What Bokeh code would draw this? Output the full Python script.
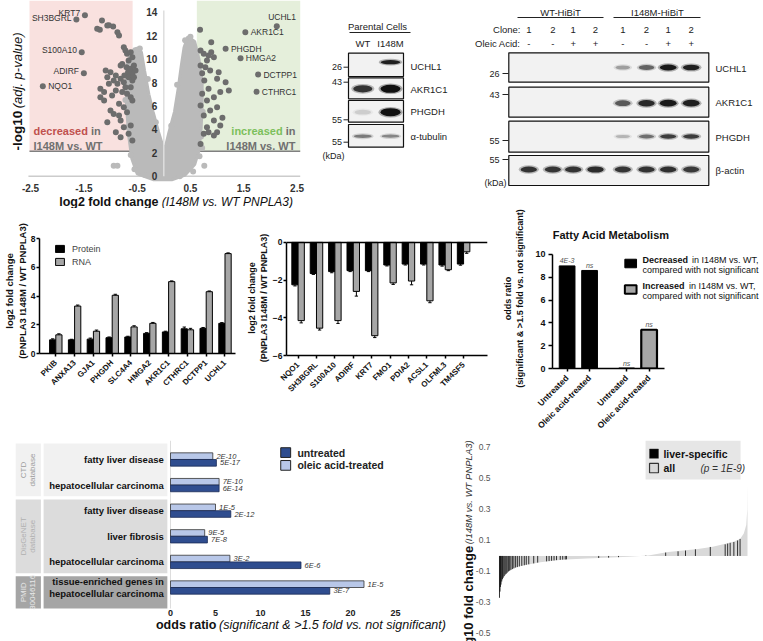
import math
import numpy as np
from bokeh.plotting import figure
from bokeh.models import Range1d, FixedTicker, Span, Legend, LegendItem
from bokeh.layouts import row, column
from bokeh.core.properties import value
from bokeh.embed import file_html
from bokeh.resources import INLINE

FONT = "Liberation Sans"

# ======================= DATA =======================
# --- volcano plot ---
vol_xticks = [-2.5, -1.5, -0.5, 0.5, 1.5, 2.5]
vol_yticks = [0, 2, 4, 6, 8, 10, 12, 14]
fc_threshold_down = -0.585
fc_threshold_up = 0.62
p_threshold = 2.13
genes_lab = ["KRT7", "SH3BGRL", "S100A10", "ADIRF", "NQO1",
             "UCHL1", "AKR1C1", "PHGDH", "HMGA2", "DCTPP1", "CTHRC1"]
genes_lab_x = [-1.48, -1.64, -1.54, -1.50, -2.27, 2.12, 1.53, 1.16, 1.44, 1.77, 1.74]
genes_lab_y = [13.75, 13.38, 10.59, 8.80, 7.69, 12.81, 12.30, 10.88, 10.08, 8.68, 7.21]
genes_lab_side = ["left", "left", "left", "left", "right",
                  "above", "right", "right", "right", "right", "right"]
down_pts = [(-1.16, 13.29), (-1.06, 12.87), (-1.20, 12.50), (-0.95, 12.78), (-0.87, 12.30),
            (-0.84, 12.01), (-0.75, 11.02), (-0.72, 10.73), (-0.69, 10.45), (-0.62, 10.59),
            (-0.59, 10.16), (-0.66, 9.88), (-0.78, 9.59), (-0.70, 9.31), (-0.62, 9.17),
            (-0.56, 9.45), (-0.53, 9.02), (-0.59, 8.74), (-0.67, 8.88), (-0.74, 8.60),
            (-0.66, 8.46), (-0.81, 8.32), (-0.59, 8.17), (-0.56, 8.46), (-0.75, 8.03),
            (-0.87, 7.89), (-1.00, 8.88), (-1.09, 9.02), (-1.06, 8.46), (-0.94, 8.17),
            (-1.19, 7.46), (-0.90, 7.32), (-0.78, 7.18), (-0.69, 7.04), (-0.62, 6.75),
            (-0.59, 6.46), (-1.12, 6.46), (-0.84, 6.18), (-0.75, 5.89), (-0.69, 5.46),
            (-0.94, 5.32), (-1.06, 4.61), (-0.81, 4.75), (-0.75, 4.18), (-0.62, 4.33),
            (-0.90, 3.76), (-0.66, 3.62), (-0.81, 3.33), (-0.59, 3.04), (-1.00, 5.61),
            (-1.19, 6.75), (-1.12, 7.18), (-0.72, 7.60), (-0.62, 7.60), (-1.03, 7.89),
            (-0.90, 8.60), (-0.97, 6.89), (-0.84, 5.18), (-0.81, 9.45), (-1.25, 12.60),
            (-1.03, 12.90)]
up_pts = [(0.68, 12.50), (0.89, 11.43), (0.69, 10.73), (0.75, 10.45), (0.84, 10.30),
          (0.94, 10.16), (0.81, 9.88), (0.69, 9.45), (0.78, 9.31), (0.87, 9.02),
          (1.03, 8.88), (1.16, 8.03), (1.00, 8.32), (0.76, 8.17), (0.84, 7.46),
          (0.72, 7.04), (0.94, 6.75), (1.06, 7.18), (1.22, 7.32), (0.81, 6.46),
          (0.69, 6.03), (0.87, 5.61), (1.00, 5.89), (0.75, 5.18), (0.94, 4.75),
          (0.81, 4.18), (1.06, 4.33), (0.75, 3.62), (0.84, 3.76), (0.94, 3.47),
          (0.69, 2.76), (1.00, 3.76), (0.89, 10.59), (1.10, 5.00), (0.72, 8.80)]
# outline of the dense cloud of non-significant proteins
cloud_x = [-0.50, -0.60, -0.66, -0.70, -0.70, -0.64, -0.55, -0.42, -0.36, -0.28, -0.20, -0.10,
           -0.02, 0.03, 0.10, 0.20, 0.27, 0.33, 0.38, 0.45, 0.58, 0.66, 0.72, 0.72, 0.70, 0.66,
           0.58, 0.40, 0.15, -0.20]
cloud_y = [0.2, 1.5, 3.5, 6.0, 8.5, 10.3, 10.9, 10.6, 9.0, 7.0, 5.5, 3.8,
           2.6, 2.5, 3.8, 5.5, 7.5, 9.5, 11.0, 11.9, 11.5, 10.0, 8.0, 6.0, 4.0, 2.2,
           1.0, 0.1, -0.3, -0.3]
cloud_pts = [(-0.94, 0.9), (-0.87, 0.9), (0.76, 0.9), (0.67, 1.7), (0.72, 2.4), (-0.62, 1.8),
             (-0.55, 0.6), (0.55, 0.4), (-0.68, 4.2), (0.70, 3.4), (-0.72, 6.5), (0.73, 5.5),
             (-0.66, 9.6), (0.71, 7.2), (-0.50, 10.8), (0.62, 10.6), (0.50, 11.9), (0.40, 11.6),
             (-0.45, 10.9), (-0.30, 8.3), (0.25, 7.8), (-0.15, 4.6), (0.14, 4.3), (-0.35, 0.1),
             (0.30, 0.0)]

# --- western blots (band intensity 0..1) ---
par_lanes = ["WT", "I148M"]
par_rows = ["UCHL1", "AKR1C1", "PHGDH", "\u03b1-tubulin"]
par_int = [[0.0, 0.9], [0.8, 1.0], [0.12, 1.0], [0.45, 0.4]]
par_mw = ["26", "43", "55", "55"]
hib_groups = ["WT-HiBiT", "I148M-HiBiT"]
hib_clone = ["1", "2", "1", "2", "1", "2", "1", "2"]
hib_oleic = ["-", "-", "+", "+", "-", "-", "+", "+"]
hib_rows = ["UCHL1", "AKR1C1", "PHGDH", "\u03b2-actin"]
hib_int = [[0, 0, 0, 0, 0.30, 0.55, 0.95, 0.90],
           [0, 0, 0, 0, 0.60, 0.85, 0.95, 0.90],
           [0, 0, 0, 0, 0.22, 0.50, 0.75, 0.75],
           [0.80, 0.78, 0.80, 0.84, 0.78, 0.80, 0.82, 0.76]]
hib_mw = ["26", "43", "55", "55"]

# --- increased proteins: protein vs RNA ---
up_genes = ["PKIB", "ANXA13", "GJA1", "PHGDH", "SLC4A4", "HMGA2", "AKR1C1", "CTHRC1", "DCTPP1", "UCHL1"]
up_protein = [0.95, 0.95, 1.00, 1.10, 1.15, 1.40, 1.50, 1.72, 1.75, 2.10]
up_protein_err = [0.07, 0.04, 0.07, 0.05, 0.05, 0.05, 0.05, 0.12, 0.06, 0.05]
up_rna = [1.30, 3.30, 1.55, 4.05, 1.85, 2.10, 5.00, 1.65, 4.30, 6.95]
up_rna_err = [0.07, 0.07, 0.08, 0.07, 0.08, 0.06, 0.05, 0.10, 0.05, 0.05]
up_yticks = [0, 2, 4, 6, 8]

# --- decreased proteins: protein vs RNA ---
down_genes = ["NQO1", "SH3BGRL", "S100A10", "ADIRF", "KRT7", "FMO1", "PDIA2", "ACSL1", "OLFML3", "TM4SF5"]
down_protein = [-2.25, -1.65, -1.55, -1.50, -1.50, -1.20, -1.15, -1.15, -1.20, -1.15]
down_protein_err = [0.06, 0.05, 0.06, 0.05, 0.05, 0.05, 0.05, 0.05, 0.06, 0.06]
down_rna = [-4.15, -4.55, -4.15, -2.60, -4.95, -2.15, -2.05, -3.10, -1.45, -0.50]
down_rna_err = [0.12, 0.10, 0.15, 0.25, 0.10, 0.08, 0.20, 0.10, 0.05, 0.08]
down_yticks = [0, -2, -4, -6]

# --- fatty acid metabolism ---
fa_title = "Fatty Acid Metabolism"
fa_groups = ["Decreased", "Decreased", "Increased", "Increased"]
fa_cond = ["Untreated", "Oleic acid-treated", "Untreated", "Oleic acid-treated"]
fa_odds = [9.0, 8.6, 0.0, 3.4]
fa_p = ["4E-3", "ns", "ns", "ns"]
fa_yticks = [0, 2, 4, 6, 8, 10]
fa_legend_rest = "in I148M vs. WT,"
fa_legend_2 = "compared with not significant"

# --- disease enrichment ---
dis_labels = ["fatty liver disease", "hepatocellular carcinoma", "fatty liver disease",
              "liver fibrosis", "hepatocellular carcinoma",
              "tissue-enriched genes in\nhepatocellular carcinoma"]
dis_db = ["CTD\ndatabase", "DisGeNET\ndatabase", "PMID\n30046116"]
dis_db_n = [2, 3, 1]
or_untreated = [5.1, 5.4, 6.7, 4.1, 14.5, 17.7]
or_oleic = [4.7, 5.4, 5.0, 3.8, 6.6, 21.5]
p_untreated = ["5E-17", "6E-14", "2E-12", "7E-8", "6E-6", "3E-7"]
p_oleic = ["2E-10", "7E-10", "1E-5", "9E-5", "3E-2", "1E-5"]
or_series = ["untreated", "oleic acid-treated"]
or_xticks = [0, 5, 10, 15, 20, 25]

# --- waterfall of liver-specific genes (rank fraction, log10 FC) ---
wf_frac = [0.0, 0.004, 0.01, 0.017, 0.03, 0.05, 0.07, 0.10, 0.165, 0.25, 0.35, 0.45, 0.52,
           0.60, 0.68, 0.80, 0.86, 0.94, 0.97, 0.985, 0.995, 0.999, 1.0]
wf_val = [-0.27, -0.20, -0.16, -0.137, -0.11, -0.085, -0.072, -0.06, -0.04, -0.025, -0.017,
          -0.01, -0.005, 0.003, 0.025, 0.045, 0.06, 0.09, 0.11, 0.145, 0.20, 0.30, 0.47]
liver_frac = [0.000, 0.002, 0.004, 0.006, 0.009, 0.012, 0.015, 0.019, 0.023, 0.027, 0.031,
              0.036, 0.041, 0.046, 0.052, 0.058, 0.065, 0.072, 0.080, 0.090, 0.100, 0.108,
              0.118, 0.138, 0.154, 0.190, 0.200, 0.210, 0.220, 0.230, 0.245, 0.255, 0.265,
              0.270, 0.400, 0.440, 0.480, 0.590, 0.670, 0.720, 0.750, 0.790, 0.850, 0.910,
              0.920, 0.930, 0.945, 0.960, 0.970]
liver_val = [-0.27, -0.23, -0.20, -0.185, -0.165, -0.15, -0.14, -0.13, -0.12, -0.115, -0.108,
             -0.10, -0.095, -0.09, -0.085, -0.08, -0.075, -0.072, -0.068, -0.064, -0.06, -0.057,
             -0.054, -0.048, -0.043, -0.035, -0.033, -0.031, -0.029, -0.027, -0.025, -0.024,
             -0.023, -0.022, -0.013, -0.011, -0.008, 0.002, 0.022, 0.03, 0.035, 0.043, 0.058,
             0.075, 0.08, 0.085, 0.09, 0.10, 0.11]
wf_yticks = [0.7, 0.5, 0.3, 0.1, -0.1, -0.3, -0.5]
wf_legend = ["liver-specific", "all"]
wf_p = "(p = 1E-9)"


# ======================= HELPERS =======================
def mkfig(w, h, xr, yr, left=0, right=0, top=0, bottom=0):
    p = figure(width=w, height=h, x_range=Range1d(*xr), y_range=Range1d(*yr),
               output_backend="svg", toolbar_location=None,
               min_border_left=left, min_border_right=right,
               min_border_top=top, min_border_bottom=bottom)
    try:
        p.frame_align = False
    except Exception:
        pass
    p.outline_line_color = None
    p.xgrid.visible = False
    p.ygrid.visible = False
    return p


def T(p, xs, ys, texts, size="9px", style="normal", color="#222222", align="left",
      baseline="middle", angle=0.0):
    p.text(x=list(xs), y=list(ys), text=list(texts), text_font=value(FONT),
           text_font_size=size, text_font_style=style, text_color=color,
           text_align=align, text_baseline=baseline, angle=angle)


def style_axis(ax, size, label_size=None, color="#111111"):
    ax.axis_line_color = "black"
    ax.axis_line_width = 1.5
    ax.major_tick_line_color = "black"
    ax.major_tick_line_width = 1.5
    ax.major_tick_in = 0
    ax.major_tick_out = 3
    ax.minor_tick_line_color = None
    ax.major_label_text_font = FONT
    ax.major_label_text_font_size = size
    ax.major_label_text_font_style = "bold"
    ax.major_label_text_color = color
    ax.axis_label_text_font = FONT
    ax.axis_label_text_font_style = "bold"
    ax.axis_label_text_font_size = label_size or size
    ax.axis_label_text_color = color


# ======================= VOLCANO (page 0-305 x 0-208) =======================
pv = mkfig(305, 208, (-3.064, 2.659), (-2.758, 15.004))
pv.xaxis.visible = False
pv.yaxis.visible = False
pv.quad(left=[-2.52, fc_threshold_up], right=[fc_threshold_down, 2.56],
        bottom=[p_threshold, p_threshold], top=[15.0, 15.0],
        fill_color=["#f9e1df", "#e5efdb"], line_color=None)
pv.segment(x0=[-2.52], x1=[2.56], y0=[p_threshold], y1=[p_threshold],
           line_color="#808080", line_width=1.5)
pv.segment(x0=[-2.54], x1=[2.56], y0=[0], y1=[0], line_color="#cccccc", line_width=1.5)
pv.patch(cloud_x, cloud_y, fill_color="#bababa", line_color="#bababa", line_width=3)
pv.scatter([a for a, b in cloud_pts], [b for a, b in cloud_pts], size=6,
           fill_color="#bababa", line_color=None)
pv.segment(x0=[0], x1=[0], y0=[0], y1=[14.15], line_color="#dedede", line_width=1.5)
pv.scatter([a for a, b in down_pts], [b for a, b in down_pts], size=6,
           fill_color="#6d6d6d", line_color=None)
pv.scatter([a for a, b in up_pts], [b for a, b in up_pts], size=6,
           fill_color="#6d6d6d", line_color=None)
pv.scatter(genes_lab_x, genes_lab_y, size=6, fill_color="#6d6d6d", line_color=None)
T(pv, [-0.12] * len(vol_yticks), vol_yticks, [str(t) for t in vol_yticks],
  "10px", "bold", "#333333", "right")
T(pv, vol_xticks, [-1.025] * len(vol_xticks), [str(t) for t in vol_xticks],
  "10px", "bold", "#333333", "center")
for g, gx, gy, side in zip(genes_lab, genes_lab_x, genes_lab_y, genes_lab_side):
    if side == "left":
        T(pv, [gx - 0.09], [gy + 0.15], [g], "8.5px", "normal", "#333333", "right")
    elif side == "right":
        T(pv, [gx + 0.1], [gy], [g], "8.5px", "normal", "#333333", "left")
    else:
        T(pv, [gx + 0.1], [gy + 0.75], [g], "8.5px", "normal", "#333333", "center")
T(pv, [-2.445], [3.84], ["decreased"], "11px", "bold", "#c0504d", "left")
T(pv, [-1.368], [3.84], ["in"], "11px", "bold", "#707070", "left")
T(pv, [-2.445], [2.62], ["I148M vs. WT"], "11px", "bold", "#707070", "left")
T(pv, [2.47], [3.84], ["in"], "11px", "bold", "#707070", "right")
T(pv, [2.231], [3.84], ["increased"], "11px", "bold", "#7cbf5c", "right")
T(pv, [2.47], [2.62], ["I148M vs. WT"], "11px", "bold", "#707070", "right")
T(pv, [-0.10], [-2.2], ["log2 fold change"], "12.5px", "bold", "#111111", "right")
T(pv, [-0.04], [-2.2], ["(I148M vs. WT PNPLA3)"], "12px", "italic", "#111111", "left")
T(pv, [-2.745], [5.6], ["-log10"], "13.5px", "bold", "#111111", "right", angle=math.pi / 2)
T(pv, [-2.745], [5.8], ["(adj. p-value)"], "13px", "italic", "#111111", "left", angle=math.pi / 2)

# ======================= BLOTS (page 305-763 x 0-208) =======================
pb = mkfig(458, 208, (305, 763), (208, 0))
pb.xaxis.visible = False
pb.yaxis.visible = False


def draw_bands(p, lane_x, band_y, ints, base_w, base_h):
    for yy, h, row_i in zip(band_y, base_h, ints):
        for xx, a in zip(lane_x, row_i):
            if a <= 0:
                continue
            w = base_w * (0.8 + 0.2 * a)
            hh = h * (0.55 + 0.45 * a)
            p.ellipse(x=[xx], y=[yy], width=[w + 4], height=[hh + 2.5],
                      fill_color="#222222", fill_alpha=0.35 * a, line_color=None)
            p.ellipse(x=[xx], y=[yy], width=[w], height=[hh],
                      fill_color="#111111", fill_alpha=min(1.0, a), line_color=None)


par_lane_x = [362.3, 390.0]
par_box = [(52.7, 76.0), (77.3, 98.3), (100.0, 121.7), (124.0, 146.7)]
par_band_y = [61.7, 88.3, 111.7, 135.7]
par_label_y = [66.0, 89.3, 110.7, 136.0]
par_mw_y = [66.7, 81.7, 119.3, 141.7]
T(pb, [377], [26], ["Parental Cells"], "9.5px", "normal", "#222222", "center")
pb.segment(x0=[349], x1=[410], y0=[32], y1=[32], line_color="#222222", line_width=1)
T(pb, par_lane_x, [43, 43], par_lanes, "9.5px", "normal", "#222222", "center")
pb.quad(left=[348] * 4, right=[403] * 4, top=[b[0] for b in par_box],
        bottom=[b[1] for b in par_box], fill_color="#f2f2f2", line_color="#111111",
        line_width=1.2)
draw_bands(pb, par_lane_x, par_band_y, par_int, 20, [4.5, 8.0, 8.0, 4.5])
T(pb, [410] * 4, par_label_y, par_rows, "9.5px", "normal", "#222222", "left")
T(pb, [341.5] * 4, par_mw_y, par_mw, "9px", "normal", "#222222", "right")
pb.segment(x0=[343] * 4, x1=[348] * 4, y0=par_mw_y, y1=par_mw_y, line_color="#222222")
T(pb, [333], [155], ["(kDa)"], "9px", "normal", "#222222", "center")

hib_lane_x = [528.3, 552.3, 572.7, 595.0, 622.3, 646.0, 667.7, 690.7]
hib_box = [(52.3, 81.7), (86.7, 116.7), (120.7, 151.7), (155.0, 185.0)]
hib_band_y = [67.0, 102.7, 136.0, 169.0]
hib_label_y = [68.0, 102.0, 137.0, 170.0]
hib_mw_y = [73.0, 94.0, 140.0, 159.0]
T(pb, [560, 657], [12, 12], hib_groups, "9.5px", "normal", "#222222", "center")
pb.segment(x0=[517, 613], x1=[603, 700], y0=[17, 17], y1=[17, 17], line_color="#222222")
T(pb, [520, 520], [29, 43], ["Clone:", "Oleic Acid:"], "9.5px", "normal", "#222222", "right")
T(pb, hib_lane_x, [29] * 8, hib_clone, "9.5px", "normal", "#222222", "center")
T(pb, hib_lane_x, [43] * 8, hib_oleic, "9.5px", "normal", "#222222", "center")
pb.quad(left=[508.3] * 4, right=[708.3] * 4, top=[b[0] for b in hib_box],
        bottom=[b[1] for b in hib_box], fill_color="#f2f2f2", line_color="#111111",
        line_width=1.2)
draw_bands(pb, hib_lane_x, hib_band_y, hib_int, 17, [6.0, 7.0, 5.0, 6.5])
T(pb, [715] * 4, hib_label_y, hib_rows, "9.5px", "normal", "#222222", "left")
T(pb, [499] * 4, hib_mw_y, hib_mw, "9px", "normal", "#222222", "right")
pb.segment(x0=[502] * 4, x1=[508] * 4, y0=hib_mw_y, y1=hib_mw_y, line_color="#222222")
T(pb, [495], [182], ["(kDa)"], "9px", "normal", "#222222", "center")

# ======================= UP BAR CHART (page 0-243 x 208-440) =======================
p1 = mkfig(243, 232, (-0.867, 9.559), (0, 8.696), left=39, right=8, top=20, bottom=87)
xi = np.arange(len(up_genes))
off = 0.165
rp = p1.vbar(x=xi - off, top=up_protein, bottom=0, width=0.33, fill_color="black", line_color="black")
rr = p1.vbar(x=xi + off, top=up_rna, bottom=0, width=0.33, fill_color="#a6a6a6", line_color="black")
for xs, vals, errs in ((xi - off, up_protein, up_protein_err), (xi + off, up_rna, up_rna_err)):
    hi = np.array(vals) + np.array(errs)
    p1.segment(x0=xs, x1=xs, y0=vals, y1=hi, line_color="black", line_width=1)
    p1.segment(x0=xs - 0.09, x1=xs + 0.09, y0=hi, y1=hi, line_color="black", line_width=1)
ax = p1.xaxis[0]
style_axis(ax, "8px")
ax.ticker = FixedTicker(ticks=list(xi))
ax.major_label_overrides = {int(i): g for i, g in zip(xi, up_genes)}
ax.major_label_orientation = math.pi / 4
ay = p1.yaxis[0]
style_axis(ay, "8.5px", "9.5px")
ay.ticker = FixedTicker(ticks=up_yticks)
ay.bounds = (0, 8)
ay.axis_label = "log2 fold change\n(PNPLA3 I148M / WT PNPLA3)"
ay.axis_label_standoff = 0
ay.major_label_standoff = 1
leg = Legend(items=[LegendItem(label="Protein", renderers=[rp]),
                    LegendItem(label="RNA", renderers=[rr])],
             location="top_left", margin=15, padding=0, spacing=2,
             glyph_width=11, glyph_height=9, label_height=11,
             label_text_font=FONT, label_text_font_size="9px", label_standoff=7,
             border_line_color=None, background_fill_alpha=0)
p1.add_layout(leg)

# ======================= DOWN BAR CHART (page 243-500 x 208-440) =======================
p2 = mkfig(257, 232, (-0.63, 10.3), (-6, 0.1), left=37, right=13, top=32, bottom=85)
xi2 = np.arange(len(down_genes))
off2 = 0.17
p2.vbar(x=xi2 - off2, top=down_protein, bottom=0, width=0.34, fill_color="black", line_color="black")
p2.vbar(x=xi2 + off2, top=down_rna, bottom=0, width=0.34, fill_color="#a6a6a6", line_color="black")
for xs, vals, errs in ((xi2 - off2, down_protein, down_protein_err), (xi2 + off2, down_rna, down_rna_err)):
    lo = np.array(vals) - np.array(errs)
    p2.segment(x0=xs, x1=xs, y0=vals, y1=lo, line_color="black", line_width=1)
    p2.segment(x0=xs - 0.09, x1=xs + 0.09, y0=lo, y1=lo, line_color="black", line_width=1)
p2.add_layout(Span(location=0, dimension="width", line_color="black", line_width=1.5))
ax = p2.xaxis[0]
style_axis(ax, "8px")
ax.ticker = FixedTicker(ticks=list(xi2))
ax.major_label_overrides = {int(i): g for i, g in zip(xi2, down_genes)}
ax.major_label_orientation = math.pi / 4
ay = p2.yaxis[0]
style_axis(ay, "8.5px", "9px")
ay.ticker = FixedTicker(ticks=down_yticks)
ay.bounds = (-6, 0)
ay.axis_label = "log2 fold change\n(PNPLA3 I148M / WT PNPLA3)"
ay.axis_label_standoff = 1
ay.major_label_standoff = 1

# ======================= FATTY ACID (page 500-763 x 208-440) =======================
pf = mkfig(263, 232, (0.35, 9.74), (0, 12.28), left=47, right=0, top=20, bottom=72)
fa_x = []
pos = 1.0
prev = None
for g in fa_groups:
    if prev is not None:
        pos += 1.0 if g == prev else 1.65
    fa_x.append(pos)
    prev = g
fa_fill = ["black" if g == "Decreased" else "#a6a6a6" for g in fa_groups]
fa_lw = [1.0 if g == "Decreased" else 2.2 for g in fa_groups]
pf.vbar(x=fa_x, top=fa_odds, bottom=0, width=0.7, fill_color=fa_fill,
        line_color="black", line_width=fa_lw)
T(pf, fa_x, [v + 0.45 for v in fa_odds], fa_p, "7px", "italic", "#555555", "center")
ax = pf.xaxis[0]
style_axis(ax, "8.5px")
ax.ticker = FixedTicker(ticks=fa_x)
ax.major_label_overrides = {float(x): c for x, c in zip(fa_x, fa_cond)}
ax.major_label_orientation = math.pi / 4
ax.bounds = (0.35, 5.35)
ay = pf.yaxis[0]
style_axis(ay, "9px")
ay.major_tick_out = 4
ay.ticker = FixedTicker(ticks=fa_yticks)
ay.bounds = (0, 10)
ay.axis_label = "odds ratio\n(significant & >1.5 fold vs. not significant)"
ay.axis_label_standoff = 7
ay.major_label_standoff = 3
T(pf, [0.36], [11.67], [fa_title], "11px", "bold", "#111111", "left")
leg_groups = ["Decreased", "Increased"]
leg_y = [9.21, 6.93]
pf.rect(x=[3.83, 3.83], y=leg_y, width=0.52, height=0.75,
        fill_color=["black", "#a6a6a6"], line_color="black", line_width=[1.0, 2.0])
T(pf, [4.35, 4.35], [9.56, 7.28], leg_groups, "9px", "bold", "#111111", "left")
T(pf, [6.56, 6.42], [9.56, 7.28], [fa_legend_rest] * 2, "9px", "normal", "#111111", "left")
T(pf, [4.35, 4.35], [8.60, 6.32], [fa_legend_2] * 2, "9px", "normal", "#111111", "left")

# ======================= DISEASE ENRICHMENT (page 0-448 x 440-641) =======================
ph = mkfig(448, 201, (-18.89, 30.89), (7.109, -0.742))
ph.xaxis.visible = False
ph.yaxis.visible = False
yi = np.arange(len(dis_labels))
db_fill = ["#f1f1f1", "#dcdcdc", "#a5a5a5"]
db_text = ["#9b9b9b", "#b0b0b0", "#e8e8e8"]
starts = np.cumsum([0] + dis_db_n[:-1])
ends = starts + np.array(dis_db_n) - 1
tops, bots = [], []
for k, (s, e) in enumerate(zip(starts, ends)):
    tops.append(-0.62 if k == 0 else (ends[k - 1] + s) / 2 + 0.06)
    bots.append(5.82 if k == len(starts) - 1 else (e + starts[k + 1]) / 2 - 0.06)
ph.quad(left=[-17.2] * 3, right=[-14.4] * 3, top=tops, bottom=bots,
        fill_color=db_fill, line_color=None)
ph.quad(left=[-14.1] * 3, right=[-0.35] * 3, top=tops, bottom=bots,
        fill_color=db_fill, line_color=None)
for k, name in enumerate(dis_db):
    l1, l2 = name.split("\n")
    yc = (tops[k] + bots[k]) / 2
    T(ph, [-16.35], [yc], [l1], "8px", "normal", db_text[k], "center", angle=math.pi / 2)
    T(ph, [-15.3], [yc], [l2], "8px", "normal", db_text[k], "center", angle=math.pi / 2)
for i, lab in enumerate(dis_labels):
    lines = lab.split("\n")
    n = len(lines)
    for j, ln in enumerate(lines):
        T(ph, [-0.75], [i + (j - (n - 1) / 2) * 0.44], [ln], "9.5px", "bold", "#111111", "right")
ph.segment(x0=[0], x1=[0], y0=[-0.74], y1=[5.82], line_color="#dddddd", line_width=1)
ph.hbar(y=yi - 0.13, left=0, right=or_oleic, height=0.26, fill_color="#b8c7e8",
        line_color="#333333", line_width=0.8)
ph.hbar(y=yi + 0.13, left=0, right=or_untreated, height=0.26, fill_color="#2f4d8f",
        line_color="#1b2b55", line_width=0.8)
T(ph, np.array(or_oleic) + 0.4, yi - 0.13, p_oleic, "7.5px", "italic", "#333333", "left")
T(ph, np.array(or_untreated) + 0.4, yi + 0.13, p_untreated, "7.5px", "italic", "#333333", "left")
ph.rect(x=[12.8, 12.8], y=[-0.27, 0.23], width=1.1, height=0.38,
        fill_color=["#2f4d8f", "#b8c7e8"], line_color="#222222", line_width=1)
T(ph, [14.1, 14.1], [-0.27, 0.23], or_series, "10.5px", "bold", "#222222", "left")
T(ph, or_xticks, [5.977] * len(or_xticks), [str(t) for t in or_xticks], "9px", "bold", "#222222", "center")
T(ph, [5.1], [6.484], ["odds ratio"], "12.5px", "bold", "#111111", "right")
T(ph, [5.4], [6.484], ["(significant & >1.5 fold vs. not significant)"], "12.5px", "italic", "#111111", "left")

# ======================= WATERFALL (page 448-763 x 440-641) =======================
pw = mkfig(315, 201, (-0.2056, 1.0645), (-0.552, 0.745))
pw.xaxis.visible = False
pw.yaxis.visible = False
pw.varea(x=wf_frac, y1=[0] * len(wf_frac), y2=wf_val, fill_color="#d9d9d9")
pw.segment(x0=liver_frac, x1=liver_frac, y0=[0] * len(liver_frac), y1=liver_val,
           line_color="#111111", line_width=1, line_alpha=0.85)
T(pw, [-0.0363] * len(wf_yticks), wf_yticks, [str(t) for t in wf_yticks],
  "8.5px", "normal", "#555555", "right")
pw.quad(left=[0.589], right=[0.972], top=[0.745], bottom=[0.493],
        fill_color="#e6e6e6", line_color=None)
pw.rect(x=[0.623, 0.623], y=[0.66, 0.567], width=0.036, height=0.06,
        fill_color=["black", "#d9d9d9"], line_color="#333333", line_width=[0.5, 1.2])
T(pw, [0.661, 0.661], [0.66, 0.567], wf_legend, "10.5px", "bold", "#111111", "left")
T(pw, [0.81], [0.567], [wf_p], "10px", "italic", "#333333", "left")
T(pw, [-0.123], [0.075], ["(I148M vs. WT PNPLA3)"], "9.5px", "italic", "#333333", "left", angle=math.pi / 2)
T(pw, [-0.123], [0.065], ["log10 fold change"], "13px", "bold", "#111111", "right", angle=math.pi / 2)

layout = column(row(column(pv), column(pb)),
                row(column(p1), column(p2), column(pf)),
                row(column(ph), column(pw)))
open("out.html", "w").write(file_html(layout, INLINE, "PNPLA3 I148M proteomics"))
